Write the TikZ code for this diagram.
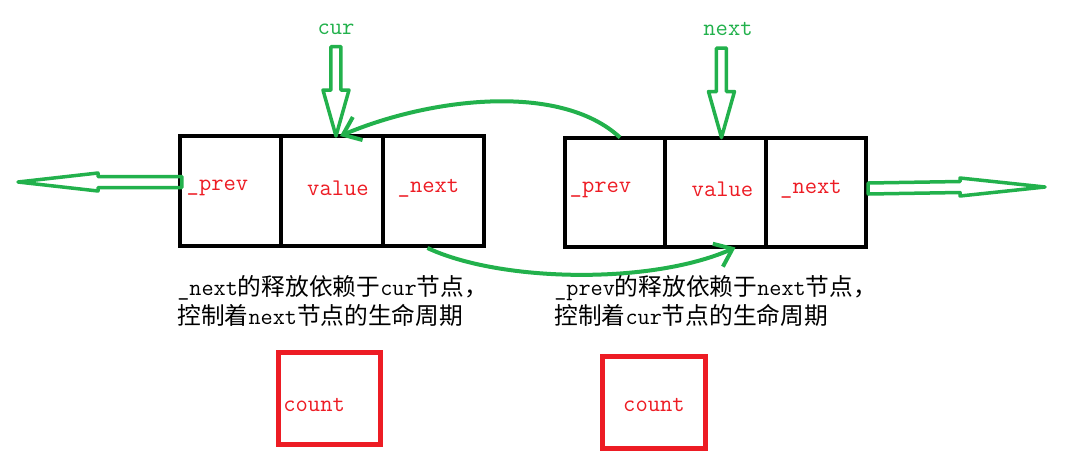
\documentclass[tikz,border=0pt]{standalone}
\usepackage{fontspec}
\newfontfamily\cjk{Noto Sans CJK SC}
\usetikzlibrary{arrows.meta}
\usetikzlibrary{positioning}
\usetikzlibrary{calc}
\definecolor{pgreen}{RGB}{34,177,76}
\definecolor{pred}{RGB}{237,28,36}
\newcommand{\lat}[1]{{\fontsize{13.4}{16.5}\selectfont\ttfamily #1}}

\begin{document}
\begin{tikzpicture}
	[x=0.02cm,y=-0.02cm,
	cell/.style={draw,line width=0.08cm,minimum width=2.03cm,minimum height=2.2cm,outer sep=0pt,inner sep=0pt},
	field/.style={text=pred,font=\fontsize{13.6}{16}\selectfont\ttfamily,inner sep=0pt},
	ptr/.style={text=pgreen,font=\fontsize{13.6}{16}\selectfont\ttfamily,inner sep=0pt},
	hollow/.style={draw=pgreen,line width=0.07cm,line join=round},
	link/.style={draw=pgreen,line width=0.08cm,-{Straight Barb[length=0.32cm,width=0.5cm]}},
	counter/.style={draw=pred,line width=0.1cm,minimum width=2.06cm,minimum height=1.84cm,outer sep=0pt},
	note/.style={align=left,inner sep=0pt,anchor=north west,font=\cjk\fontsize{13.5}{16.5}\selectfont}]
	\useasboundingbox (0,0) rectangle (1078,457);

	% cur node
	\node[cell] (curprev) at (230.5,191) {};
	\node[cell,right=0pt of curprev] (curval) {};
	\node[cell,right=0pt of curval] (curnext) {};
	\node[field] (cpl) at ($(curprev)+(-13,-3)$) {\_prev};
	\node[field] (cvl) at ($(curval)+(6,-3)$) {value};
	\node[field] (cnl) at ($(curnext)+(-5,-3)$) {\_next};

	% next node
	\node[cell,minimum width=2.01cm] (nxtprev) at (615,192.5) {};
	\node[cell,minimum width=2.01cm,right=0pt of nxtprev] (nxtval) {};
	\node[cell,minimum width=2.01cm,right=0pt of nxtval] (nxtnext) {};
	\node[field] (npl) at ($(nxtprev)+(-14.5,-3)$) {\_prev};
	\node[field] (nvl) at ($(nxtval)+(7,-3)$) {value};
	\node[field] (nnl) at ($(nxtnext)+(-5,-3)$) {\_next};

	% pointers
	\node[ptr] (cur) at (336,29) {cur};
	\node[ptr] (nxt) at (728,29) {next};
	\coordinate (curtip) at ($(curval.north)+(4,0)$);
	\coordinate (curtail) at ($(curtip |- cur.south)+(0,12)$);
	\coordinate (nxttip) at ($(nxtval.north)+(6,0)$);
	\coordinate (nxttail) at ($(nxttip |- nxt.south)+(0,12)$);
	\foreach \t/\h in {curtail/curtip, nxttail/nxttip}
	\draw[hollow] ($(\t)+(-5,0)$) -- ($(\t)+(5,0)$) -- ($(\h)+(5,-46)$) -- ($(\h)+(13,-46)$)
		-- (\h) -- ($(\h)+(-13,-46)$) -- ($(\h)+(-5,-46)$) -- cycle;

	% outer links
	\coordinate (lefttip) at (18,182);
	\coordinate (leftstart) at ($(curprev.west)+(2,-9)$);
	\draw[hollow] ($(leftstart)+(0,-5.5)$) -- ($(leftstart)+(0,5.5)$) -- ($(lefttip)+(80,5.5)$) -- ($(lefttip)+(80,9)$)
		-- (lefttip) -- ($(lefttip)+(80,-9)$) -- ($(lefttip)+(80,-5.5)$) -- cycle;
	\coordinate (righttip) at (1045,187);
	\coordinate (rightstart) at ($(nxtnext.east)+(2,-4)$);
	\draw[hollow] ($(rightstart)+(0,-5.5)$) -- ($(rightstart)+(0,5.5)$) -- ($(righttip)+(-85,5.5)$) -- ($(righttip)+(-85,9)$)
		-- (righttip) -- ($(righttip)+(-85,-9)$) -- ($(righttip)+(-85,-5.5)$) -- cycle;

	% _prev and _next
	\draw[link] ($(nxtprev.north)+(5,0)$) .. controls (560,82) and (430,98) .. ($(curval.north)+(8,0)$);
	\draw[link] ($(curnext.south)+(-6,2)$) .. controls (500,282) and (650,285) .. ($(nxtval.south)+(20,0)$);

	\node[note] (curnote) at (177,275) {\lat{\_next}的释放依赖于\lat{cur}节点，\\控制着\lat{next}节点的生命周期};
	\node[note] (nxtnote) at (554,275) {\lat{\_prev}的释放依赖于\lat{next}节点，\\控制着\lat{cur}节点的生命周期};

	% counts
	\node[counter] (cntcur) at (329.5,398) {};
	\node[field,anchor=west] (cntcurtxt) at (283,405) {count};
	\node[counter] (cntnxt) at (654,402) {};
	\node[field] (cntnxttxt) at (654,405) {count};
\end{tikzpicture}
\end{document}
